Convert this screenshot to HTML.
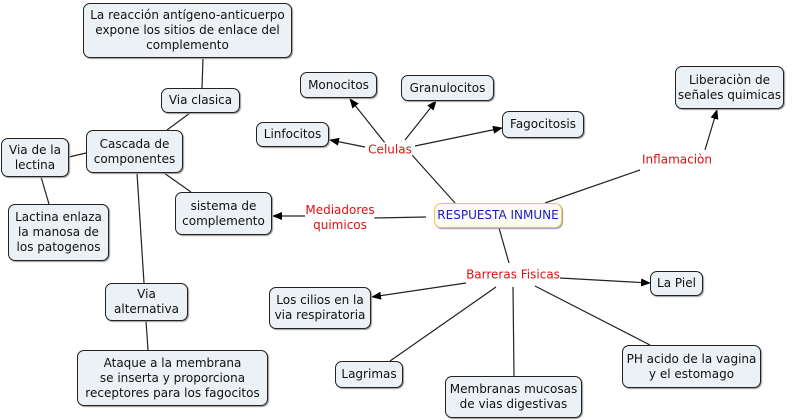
<!DOCTYPE html>
<html><head><meta charset="utf-8"><style>
body{margin:0;width:795px;height:420px;background:#fff;position:relative;overflow:hidden;font-family:"DejaVu Sans","Liberation Sans",sans-serif;font-size:12px;color:#111}
.n{position:absolute;box-sizing:border-box;background:#ebf1f4;border:1px solid #222;border-radius:7px;display:flex;align-items:center;justify-content:center;text-align:center;line-height:15px;box-shadow:1px 1px 1px #999;white-space:nowrap}
.l{position:absolute;color:#e01010;text-align:center;line-height:15px;background:#fff;transform:translate(-50%,-50%);white-space:nowrap}
svg{position:absolute;left:0;top:0}
</style></head><body>
<svg width="795" height="420">
<defs><marker id="a" markerWidth="10" markerHeight="8" refX="9" refY="4" orient="auto" markerUnits="userSpaceOnUse"><path d="M0,0L10,4L0,8z" fill="#000"/></marker></defs>
<g stroke="#222" stroke-width="1.2" fill="none">
<line x1="203" y1="58" x2="202" y2="88"/>
<line x1="190" y1="113" x2="167" y2="130"/>
<line x1="86" y1="153" x2="69" y2="157"/>
<line x1="41" y1="177" x2="49" y2="204"/>
<line x1="164" y1="173" x2="191" y2="192"/>
<line x1="137" y1="173" x2="144" y2="283"/>
<line x1="146" y1="321" x2="148" y2="350"/>
<line x1="455" y1="203" x2="412" y2="155"/>
<line x1="385" y1="143" x2="350" y2="99" marker-end="url(#a)"/>
<line x1="365" y1="147" x2="330" y2="140" marker-end="url(#a)"/>
<line x1="405" y1="140" x2="436" y2="101" marker-end="url(#a)"/>
<line x1="415" y1="146" x2="502" y2="128" marker-end="url(#a)"/>
<line x1="545" y1="203" x2="640" y2="170"/>
<line x1="705" y1="150" x2="717" y2="110" marker-end="url(#a)"/>
<line x1="426" y1="217" x2="373" y2="218"/>
<line x1="305" y1="216" x2="273" y2="216" marker-end="url(#a)"/>
<line x1="499" y1="228" x2="509" y2="263"/>
<line x1="466" y1="283" x2="372" y2="297" marker-end="url(#a)"/>
<line x1="560" y1="278" x2="650" y2="283" marker-end="url(#a)"/>
<line x1="496" y1="287" x2="390" y2="361"/>
<line x1="513" y1="287" x2="514" y2="376"/>
<line x1="535" y1="286" x2="650" y2="345"/>
</g></svg>
<div class="n" style="left:83px;top:3px;width:209px;height:55px">La reacción antígeno-anticuerpo<br>expone los sitios de enlace del<br>complemento</div>
<div class="n" style="left:161px;top:88px;width:79px;height:25px">Via clasica</div>
<div class="n" style="left:86px;top:130px;width:97px;height:43px">Cascada de<br>componentes</div>
<div class="n" style="left:1px;top:138px;width:68px;height:39px">Via de la<br>lectina</div>
<div class="n" style="left:8px;top:204px;width:101px;height:57px">Lactina enlaza<br>la manosa de<br>los patogenos</div>
<div class="n" style="left:175px;top:192px;width:97px;height:43px">sistema de<br>complemento</div>
<div class="n" style="left:105px;top:283px;width:83px;height:38px">Via<br>alternativa</div>
<div class="n" style="left:77px;top:350px;width:191px;height:56px">Ataque a la membrana<br>se inserta y proporciona<br>receptores para los fagocitos</div>
<div class="n" style="left:300px;top:72px;width:77px;height:26px">Monocitos</div>
<div class="n" style="left:401px;top:75px;width:93px;height:26px">Granulocitos</div>
<div class="n" style="left:256px;top:122px;width:73px;height:25px">Linfocitos</div>
<div class="n" style="left:502px;top:111px;width:82px;height:27px">Fagocitosis</div>
<div class="n" style="left:675px;top:66px;width:109px;height:43px">Liberaciòn de<br>señales quimicas</div>
<div class="n" style="left:434px;top:203px;width:128px;height:25px;background:#fbfbf1;border-color:#e8c84a;color:#1a1ad0">RESPUESTA INMUNE</div>
<div class="n" style="left:269px;top:287px;width:102px;height:42px">Los cilios en la<br>via respiratoria</div>
<div class="n" style="left:650px;top:271px;width:53px;height:25px">La Piel</div>
<div class="n" style="left:335px;top:361px;width:68px;height:27px">Lagrimas</div>
<div class="n" style="left:445px;top:376px;width:137px;height:42px">Membranas mucosas<br>de vias digestivas</div>
<div class="n" style="left:622px;top:345px;width:139px;height:43px">PH acido de la vagina<br>y el estomago</div>
<div class="l" style="left:390px;top:150px">Celulas</div>
<div class="l" style="left:677px;top:160px">Inflamaciòn</div>
<div class="l" style="left:340px;top:218px">Mediadores<br>quimicos</div>
<div class="l" style="left:513px;top:275px">Barreras Fisicas</div>
</body></html>
